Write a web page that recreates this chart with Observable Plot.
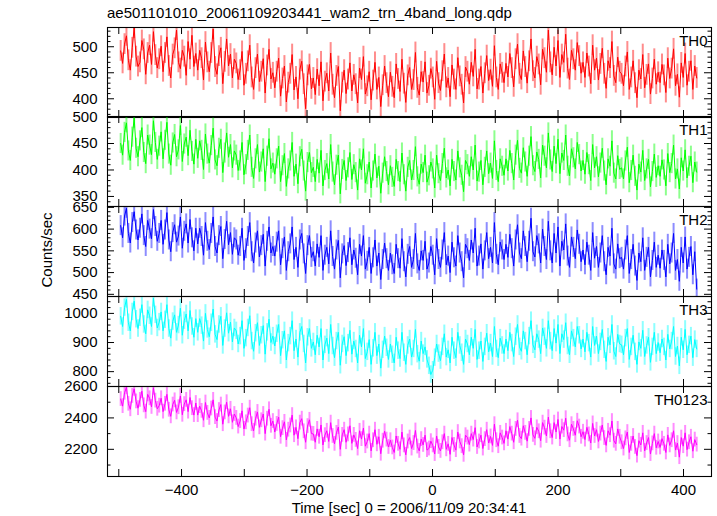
<!DOCTYPE html>
<html>
<head>
<meta charset="utf-8">
<script src="https://cdn.jsdelivr.net/npm/d3@7"></script>
<script src="https://cdn.jsdelivr.net/npm/@observablehq/plot@0.6"></script>
<style>
  body { margin: 0; background: white; }
  #chart { position: relative; width: 717px; height: 516px; background: white; font-family: "Liberation Sans", Arial, Helvetica, sans-serif; color: black; overflow: hidden; }
  #chart svg { position: absolute; left: 0; }
  .lab { position: absolute; font-size: 15px; line-height: 16px; white-space: nowrap; }
</style>
</head>
<body>
<div id="chart">
  <div class="lab" id="title" style="left:107px; top:5px;"></div>
  <div class="lab" id="ylab" style="left:47px; top:250px; transform: translate(-50%,-50%) rotate(-90deg);"></div>
  <div class="lab" id="xlab" style="left:107px; width:604px; top:500px; text-align:center;"></div>
</div>
<script>
// ---------------- data ----------------
const titleText = "ae501101010_20061109203441_wam2_trn_4band_long.qdp";
const yLabelText = "Counts/sec";
const xLabelText = "Time [sec] 0 = 2006/11/09 20:34:41";

const timeStart = -497;   // first bin (s)
const timeEnd = 421;      // last bin (s)

const panelNames = ["TH0", "TH1", "TH2", "TH3", "TH0123"];
const panelColors = ["#ff0000", "#00ff00", "#0000ff", "#00ffff", "#ff00ff"];

const th0 = [
  492, 468, 505, 521, 474, 455, 498, 536, 481, 462, 470, 512, 495, 447, 488, 503, 466, 529, 484, 459,
  476, 501, 452, 488, 519, 463, 440, 485, 497, 532, 470, 458, 493, 481, 445, 510, 476, 522, 462, 487,
  455, 493, 478, 436, 509, 470, 452, 488, 534, 461, 447, 482, 498, 429, 471, 515, 463, 486, 440, 476,
  468, 437, 455, 491, 426, 448, 472, 503, 441, 418, 459, 486, 433, 452, 477, 411, 464, 495, 438, 450,
  421, 452, 478, 405, 439, 463, 394, 431, 448, 485, 417, 442, 400, 456, 472, 428, 381, 445, 466, 419,
  440, 408, 457, 425, 471, 396, 433, 449, 415, 488, 427, 402, 444, 462, 377, 431, 455, 410, 437, 469,
  415, 446, 428, 392, 459, 437, 481, 409, 424, 452, 398, 435, 470, 418, 441, 385, 426, 463, 430, 404,
  451, 423, 402, 467, 438, 414, 476, 429, 393, 445, 460, 418, 436, 489, 421, 407, 452, 432, 471, 411,
  425, 458, 441, 399, 472, 430, 416, 453, 486, 422, 440, 404, 465, 437, 418, 479, 443, 427, 392, 461,
  452, 428, 470, 443, 495, 419, 437, 462, 411, 449, 483, 435, 456, 424, 502, 441, 418, 467, 450, 431,
  468, 442, 487, 459, 423, 476, 505, 448, 437, 492, 461, 430, 472, 515, 453, 440, 481, 466, 427, 495,
  478, 451, 532, 470, 446, 499, 463, 512, 441, 485, 470, 524, 458, 437, 493, 476, 455, 508, 482, 449,
  470, 441, 488, 462, 429, 503, 455, 478, 436, 467, 497, 448, 420, 473, 459, 510, 444, 431, 480, 452,
  448, 425, 462, 490, 418, 441, 473, 430, 402, 455, 438, 485, 421, 446, 467, 409, 439, 476, 428, 451,
  431, 466, 445, 412, 478, 439, 458, 496, 425, 447, 403, 469, 441, 487, 426, 452, 473, 418, 463, 440
];
const th1 = [
  450, 428, 471, 489, 436, 418, 462, 498, 441, 425, 455, 480, 433, 412, 466, 447, 429, 493, 452, 420,
  445, 472, 421, 456, 490, 430, 409, 451, 467, 425, 438, 484, 416, 449, 462, 427, 475, 435, 411, 458,
  422, 455, 437, 401, 468, 430, 413, 446, 479, 419, 408, 441, 458, 395, 432, 470, 424, 448, 404, 436,
  428, 399, 417, 452, 391, 410, 437, 466, 405, 384, 421, 448, 396, 415, 440, 378, 426, 459, 402, 413,
  392, 421, 445, 378, 408, 431, 369, 402, 417, 452, 388, 411, 374, 425, 439, 398, 360, 414, 433, 395,
  405, 378, 420, 394, 437, 370, 399, 412, 383, 448, 396, 372, 409, 428, 355, 401, 418, 380, 404, 433,
  382, 410, 395, 362, 421, 400, 440, 375, 391, 415, 366, 398, 430, 385, 407, 356, 394, 425, 397, 372,
  408, 386, 369, 420, 397, 378, 432, 391, 360, 405, 418, 381, 399, 444, 387, 373, 411, 395, 428, 377,
  389, 415, 402, 366, 428, 393, 380, 412, 441, 385, 400, 370, 420, 397, 381, 436, 404, 390, 359, 418,
  410, 388, 425, 400, 447, 379, 396, 418, 372, 405, 436, 393, 413, 384, 455, 399, 378, 421, 407, 390,
  421, 398, 437, 412, 381, 428, 456, 403, 394, 442, 415, 388, 426, 463, 408, 397, 434, 420, 385, 447,
  426, 404, 470, 419, 397, 445, 412, 458, 393, 432, 418, 466, 407, 389, 440, 423, 402, 452, 429, 398,
  418, 392, 433, 410, 380, 448, 404, 425, 387, 413, 441, 398, 372, 421, 407, 455, 394, 383, 427, 401,
  404, 383, 417, 443, 376, 399, 428, 388, 362, 411, 396, 437, 380, 402, 420, 368, 397, 430, 386, 408,
  388, 419, 400, 370, 431, 395, 412, 447, 383, 402, 364, 423, 398, 438, 385, 407, 426, 376, 415, 396
];
const th2 = [
  608, 580, 630, 648, 590, 568, 615, 640, 598, 575, 602, 635, 585, 560, 620, 600, 578, 645, 606, 572,
  590, 620, 565, 598, 638, 575, 548, 592, 610, 570, 584, 628, 556, 595, 612, 568, 622, 580, 550, 602,
  566, 602, 583, 540, 615, 572, 553, 590, 628, 560, 545, 585, 606, 532, 576, 618, 564, 592, 542, 580,
  575, 540, 560, 602, 528, 555, 583, 615, 548, 522, 568, 596, 536, 562, 588, 515, 572, 605, 545, 560,
  538, 570, 596, 518, 555, 582, 505, 548, 566, 605, 530, 558, 512, 575, 590, 543, 498, 562, 585, 535,
  548, 515, 566, 535, 585, 505, 540, 558, 520, 596, 537, 508, 552, 574, 488, 543, 562, 516, 546, 580,
  518, 552, 533, 495, 565, 538, 585, 508, 526, 558, 498, 534, 575, 515, 545, 484, 530, 568, 532, 505,
  545, 518, 498, 565, 532, 510, 578, 525, 490, 542, 560, 512, 530, 590, 520, 505, 550, 528, 572, 508,
  522, 560, 540, 495, 578, 530, 512, 552, 592, 518, 538, 500, 570, 534, 515, 585, 545, 525, 488, 565,
  555, 528, 575, 545, 602, 515, 538, 566, 508, 550, 592, 532, 558, 522, 615, 542, 518, 570, 552, 530,
  565, 535, 588, 555, 515, 575, 610, 545, 532, 596, 560, 525, 572, 625, 548, 536, 585, 566, 522, 600,
  560, 530, 618, 550, 522, 590, 545, 605, 515, 572, 552, 612, 538, 512, 582, 558, 532, 598, 565, 525,
  552, 518, 570, 540, 505, 592, 533, 560, 512, 545, 585, 525, 495, 558, 538, 602, 520, 508, 566, 532,
  535, 508, 552, 585, 498, 530, 565, 515, 482, 545, 525, 580, 505, 535, 558, 490, 528, 570, 512, 540,
  510, 552, 528, 490, 565, 520, 545, 590, 505, 530, 480, 558, 522, 582, 508, 535, 560, 495, 548, 462
];
const th3 = [
  990, 955, 1020, 1048, 968, 940, 1005, 1042, 980, 948, 985, 1030, 962, 930, 1012, 992, 955, 1052, 995, 950,
  970, 1005, 940, 978, 1030, 948, 915, 972, 995, 935, 960, 1018, 925, 975, 998, 940, 1010, 955, 918, 982,
  935, 982, 958, 905, 1000, 945, 920, 968, 1015, 928, 910, 962, 990, 890, 948, 1002, 932, 970, 902, 950,
  940, 895, 922, 975, 880, 915, 950, 992, 905, 870, 932, 968, 890, 925, 958, 860, 935, 980, 900, 922,
  888, 930, 962, 855, 908, 940, 840, 898, 922, 975, 872, 912, 850, 935, 955, 895, 830, 918, 948, 880,
  902, 858, 925, 885, 948, 840, 892, 915, 862, 962, 888, 848, 905, 935, 822, 895, 920, 855, 898, 942,
  860, 905, 878, 830, 925, 885, 948, 845, 868, 910, 825, 880, 935, 855, 895, 812, 875, 922, 882, 842,
  895, 858, 830, 918, 872, 845, 935, 865, 825, 890, 912, 850, 878, 945, 860, 836, 905, 862, 885, 842,
  820, 790, 805, 848, 895, 862, 838, 885, 930, 850, 875, 830, 918, 872, 848, 935, 890, 865, 825, 912,
  895, 858, 918, 880, 945, 842, 872, 905, 835, 885, 932, 868, 898, 852, 955, 878, 848, 915, 890, 862,
  912, 872, 935, 898, 852, 920, 962, 885, 870, 940, 905, 858, 922, 975, 892, 875, 930, 910, 862, 950,
  920, 880, 975, 905, 872, 948, 898, 962, 862, 930, 910, 968, 888, 858, 940, 915, 885, 955, 925, 878,
  912, 868, 935, 898, 850, 955, 890, 922, 862, 902, 945, 875, 835, 918, 892, 962, 870, 852, 928, 895,
  892, 858, 915, 948, 842, 885, 925, 868, 825, 902, 880, 942, 852, 890, 918, 832, 885, 935, 862, 900,
  865, 912, 885, 840, 928, 878, 905, 955, 852, 888, 820, 918, 875, 945, 858, 892, 922, 848, 910, 878
];
const th0123 = [
  2520, 2475, 2560, 2595, 2490, 2455, 2540, 2585, 2505, 2462, 2515, 2570, 2480, 2440, 2550, 2525, 2470, 2592, 2510, 2458,
  2478, 2525, 2440, 2490, 2550, 2452, 2410, 2485, 2512, 2435, 2468, 2540, 2420, 2488, 2515, 2440, 2530, 2462, 2418, 2495,
  2418, 2475, 2445, 2385, 2498, 2432, 2400, 2460, 2515, 2405, 2380, 2450, 2485, 2360, 2435, 2500, 2410, 2458, 2372, 2425,
  2400, 2345, 2380, 2445, 2330, 2372, 2415, 2465, 2360, 2318, 2395, 2438, 2340, 2385, 2425, 2300, 2395, 2455, 2350, 2380,
  2310, 2362, 2405, 2280, 2335, 2375, 2260, 2325, 2352, 2418, 2290, 2340, 2268, 2370, 2395, 2315, 2245, 2348, 2388, 2300,
  2298, 2245, 2330, 2280, 2355, 2228, 2290, 2318, 2250, 2370, 2285, 2235, 2305, 2342, 2200, 2292, 2325, 2245, 2295, 2350,
  2238, 2292, 2260, 2205, 2318, 2265, 2335, 2220, 2250, 2300, 2190, 2258, 2325, 2232, 2280, 2172, 2255, 2315, 2262, 2215,
  2258, 2212, 2180, 2285, 2235, 2200, 2310, 2225, 2165, 2250, 2275, 2205, 2240, 2320, 2218, 2190, 2265, 2228, 2290, 2195,
  2205, 2252, 2225, 2170, 2285, 2215, 2190, 2245, 2300, 2200, 2235, 2168, 2275, 2228, 2195, 2310, 2250, 2220, 2165, 2290,
  2275, 2230, 2300, 2262, 2338, 2215, 2250, 2290, 2205, 2265, 2325, 2240, 2282, 2225, 2360, 2258, 2220, 2305, 2275, 2238,
  2318, 2265, 2345, 2300, 2245, 2330, 2385, 2285, 2268, 2350, 2305, 2252, 2330, 2400, 2292, 2270, 2340, 2315, 2255, 2370,
  2338, 2285, 2405, 2315, 2275, 2370, 2310, 2390, 2265, 2345, 2322, 2398, 2295, 2258, 2360, 2330, 2290, 2382, 2345, 2280,
  2312, 2262, 2340, 2295, 2240, 2365, 2285, 2325, 2250, 2300, 2355, 2272, 2225, 2318, 2290, 2380, 2255, 2235, 2330, 2280,
  2245, 2205, 2270, 2310, 2180, 2235, 2285, 2215, 2160, 2255, 2228, 2305, 2190, 2240, 2275, 2170, 2238, 2300, 2210, 2250,
  2212, 2268, 2235, 2180, 2292, 2225, 2258, 2318, 2195, 2240, 2150, 2275, 2220, 2305, 2198, 2245, 2280, 2188, 2262, 2230
];
const seriesValues = [th0, th1, th2, th3, th0123];
const seriesErrors = [20, 19, 23, 30, 47];          // half-length of error bars (counts/sec)

const yDomains = [[364, 537], [331, 501], [445, 652], [749, 1058], [2027, 2600]];
const yTickLabels = [[400, 450, 500], [350, 400, 450, 500], [450, 500, 550, 600, 650], [800, 900, 1000], [2200, 2400, 2600]];
const yMajorStep = [50, 50, 50, 100, 200];
const yMinorStep = [10, 10, 10, 20, 100];

const xDomain = [-518, 444.6];
const xTickLabels = [-400, -200, 0, 200, 400];
const xTickMarks = [-500, -400, -300, -200, -100, 0, 100, 200, 300, 400];

// ---------------- layout ----------------
const W = 717, ML = 107, MR = 6;
const panelTops = [27, 116, 206, 296, 386];
const panelH = 90;
const innerW = W - ML - MR;

document.getElementById("title").textContent = titleText;
document.getElementById("ylab").textContent = yLabelText;
document.getElementById("xlab").textContent = xLabelText;

const chart = document.getElementById("chart");

function ticksIn(domain, step) {
  const lo = Math.ceil(domain[0] / step) * step;
  return d3.range(lo, domain[1] + 1e-9, step);
}
const minusFmt = d => (d < 0 ? "\u2212" + Math.abs(d) : String(d));

seriesValues.forEach((vals, i) => {
  const isLast = i === seriesValues.length - 1;
  const n = vals.length;
  const dt = (timeEnd - timeStart) / (n - 1);
  const err = seriesErrors[i];
  const data = vals.map((v, j) => ({t: timeStart + j * dt, v, lo: v - err, hi: v + err}));
  const color = panelColors[i];
  const dom = yDomains[i];
  const majors = ticksIn(dom, yMajorStep[i]);
  const minors = ticksIn(dom, yMinorStep[i]).filter(d => !majors.includes(d));
  const mb = isLast ? 30 : 1;

  const marks = [
    Plot.ruleX(data, {x: "t", y1: "lo", y2: "hi", stroke: color, strokeOpacity: 0.45, strokeWidth: 2, clip: true}),
    Plot.line(data, {x: "t", y: "v", stroke: color, strokeWidth: 1, clip: true}),
    // inward ticks: left and right, major and minor
    Plot.tickY(majors, {y: d => d, insetRight: innerW - 7, stroke: "black"}),
    Plot.tickY(majors, {y: d => d, insetLeft: innerW - 7, stroke: "black"}),
    Plot.tickY(minors, {y: d => d, insetRight: innerW - 3.5, stroke: "black"}),
    Plot.tickY(minors, {y: d => d, insetLeft: innerW - 3.5, stroke: "black"}),
    // inward ticks: top and bottom
    Plot.tickX(xTickMarks, {x: d => d, insetTop: panelH - 7, stroke: "black"}),
    Plot.tickX(xTickMarks, {x: d => d, insetBottom: panelH - 7, stroke: "black"}),
    Plot.frame({stroke: "black", strokeWidth: 1.1}),
    Plot.axisY(yTickLabels[i], {anchor: "left", tickSize: 0, tickPadding: 10, fontSize: 15, label: null, tickFormat: minusFmt}),
    Plot.text([panelNames[i]], {frameAnchor: "top-right", text: d => d, dx: -4, dy: 8, lineAnchor: "top", fontSize: 15, fill: "black"})
  ];
  if (isLast) {
    marks.push(Plot.axisX(xTickLabels, {anchor: "bottom", tickSize: 0, tickPadding: 8, fontSize: 15, label: null, tickFormat: minusFmt}));
  }

  const svg = Plot.plot({
    width: W,
    height: panelH + 1 + mb,
    marginLeft: ML,
    marginRight: MR,
    marginTop: 1,
    marginBottom: mb,
    x: {domain: xDomain, axis: null},
    y: {domain: dom, axis: null},
    style: {background: "transparent", overflow: "visible", fontFamily: "'Liberation Sans', Arial, sans-serif", fontSize: "15px", color: "black"},
    marks
  });
  svg.style.top = (panelTops[i] - 1) + "px";
  chart.appendChild(svg);
});
</script>
</body>
</html>
